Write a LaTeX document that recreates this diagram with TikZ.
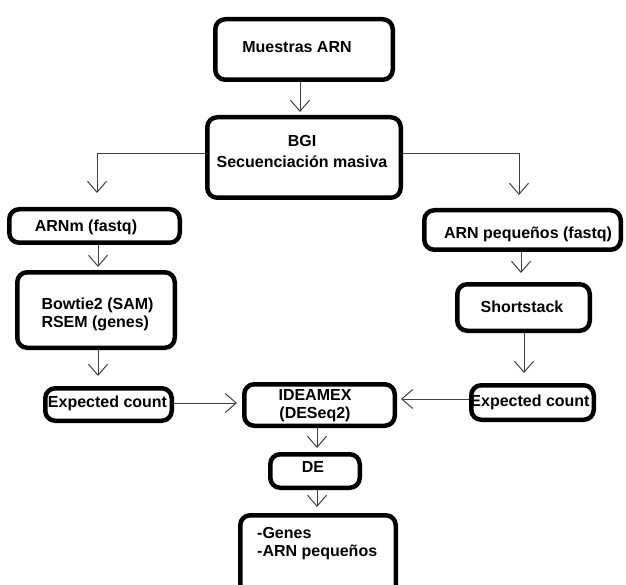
\documentclass[tikz,border=0pt]{standalone}
\usepackage{fontspec}
\setmainfont{Liberation Sans}
\usetikzlibrary{arrows.meta}
\begin{document}
\begin{tikzpicture}[x=1pt,y=-1pt,
  box/.style={draw=black, line width=4.5pt, rounded corners=10pt, inner sep=0pt},
  txt/.style={font=\fontsize{16}{18}\selectfont\bfseries, inner sep=0pt, align=center},
  conn/.style={draw=black!75, line width=1pt, -{Straight Barb[length=11pt,width=19pt]}}]
\useasboundingbox (0,0) rectangle (626,585);
% boxes
\node[box, minimum width=177.5pt, minimum height=60.5pt] (muestras) at (304,49.5) {};
\node[box, minimum width=193.5pt, minimum height=80.5pt] (bgi) at (304,157.5) {};
\node[box, minimum width=170.5pt, minimum height=33.5pt] (arnm) at (94.5,226) {};
\node[box, minimum width=157.5pt, minimum height=75.5pt] (bowtie) at (96,310) {};
\node[box, minimum width=126.5pt, minimum height=32.5pt] (ecl) at (108.5,404.5) {};
\node[box, minimum width=150.5pt, minimum height=41.5pt] (ideamex) at (319.5,405) {};
\node[box, minimum width=89.5pt, minimum height=33.5pt] (de) at (315,471) {};
\node[box, minimum width=155.5pt, minimum height=85.5pt] (final) at (318,558) {};
\node[box, minimum width=196.5pt, minimum height=39.5pt] (arnp) at (522.5,230) {};
\node[box, minimum width=132.5pt, minimum height=46.5pt] (short) at (523.5,307.5) {};
\node[box, minimum width=122.5pt, minimum height=34.5pt] (ecr) at (532.5,402.5) {};
% texts
\node[txt] (tmu) at (297,47) {Muestras ARN};
\node[txt] (tbgi) at (302,151) {BGI\\[3pt]Secuenciación masiva};
\node[txt] (tarnm) at (86,227) {ARNm (fastq)};
\node[txt, align=left] (tbow) at (97.5,314) {Bowtie2 (SAM)\\RSEM (genes)};
\node[txt] (tecl) at (107.5,403) {Expected count};
\node[txt] (tid) at (315,406) {IDEAMEX\\(DESeq2)};
\node[txt] (tde) at (313,467) {DE};
\node[txt, align=left, anchor=west] (tfin) at (257,544) {-Genes\\-ARN pequeños};
\node[txt] (tarnp) at (528,234) {ARN pequeños (fastq)};
\node[txt] (tsh) at (522,307) {Shortstack};
\node[txt] (tecr) at (530,402) {Expected count};
% connectors
\draw[conn, shorten >=3pt] (300,0 |- muestras.south) -- (300,0 |- bgi.north);
\draw[conn, shorten >=14pt] (bgi.west |- 0,154) -| (97,0 |- arnm.north);
\draw[conn, shorten >=13pt] (bgi.east |- 0,154) -| (519,0 |- arnp.north);
\draw[conn, shorten >=3pt] (98,0 |- arnm.south) -- (98,0 |- bowtie.north);
\draw[conn, shorten >=10pt] (98,0 |- bowtie.south) -- (98,0 |- ecl.north);
\draw[conn, shorten >=5pt] (ecl.east |- 0,403) -- (ideamex.west |- 0,403);
\draw[conn, shorten >=4pt] (ecr.west |- 0,399) -- (ideamex.east |- 0,399);
\draw[conn, shorten >=4pt] (317,0 |- ideamex.south) -- (317,0 |- de.north);
\draw[conn, shorten >=6pt] (317,0 |- de.south) -- (317,0 |- final.north);
\draw[conn, shorten >=9pt] (521,0 |- arnp.south) -- (521,0 |- short.north);
\draw[conn, shorten >=10pt] (524,0 |- short.south) -- (524,0 |- ecr.north);
\end{tikzpicture}
\end{document}
